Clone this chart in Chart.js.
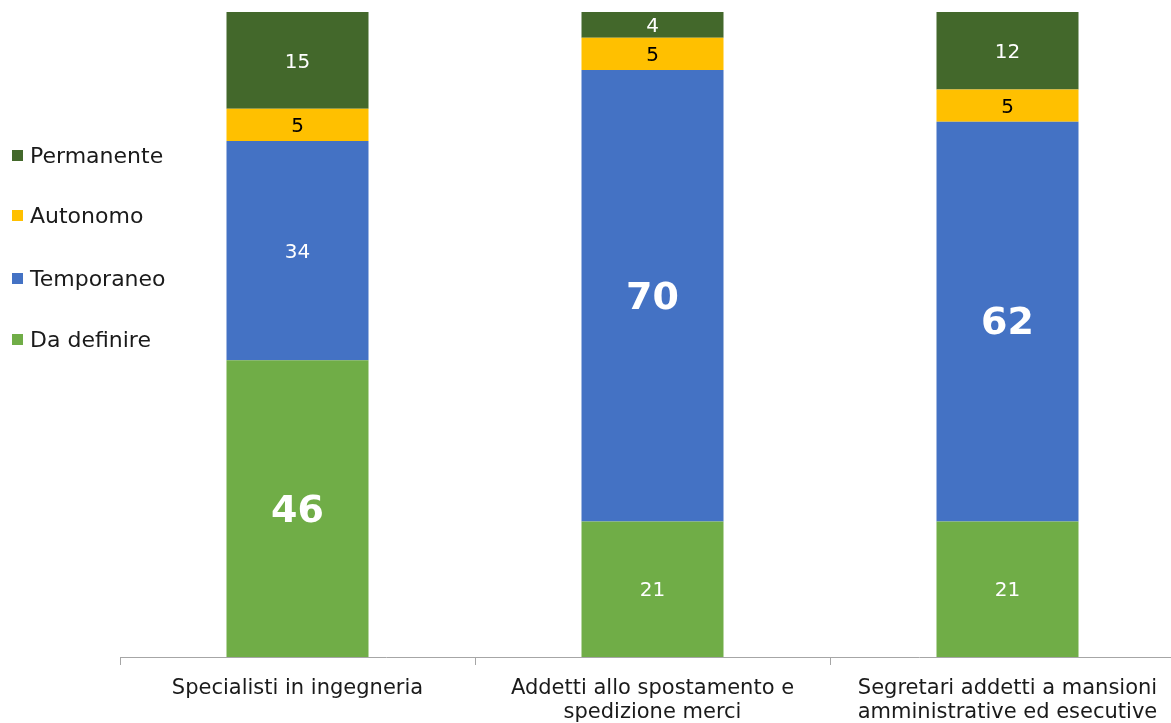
<!DOCTYPE html>
<html><head><meta charset="utf-8">
<script src="https://cdn.jsdelivr.net/npm/chart.js@4/dist/chart.umd.min.js"></script>
<style>
html,body{margin:0;padding:0;background:#fff;overflow:hidden;width:1171px;height:723px;}
#wrap{position:relative;width:1185px;height:723px;}
#legend{position:absolute;left:12px;top:0;font-family:"DejaVu Sans",sans-serif;font-size:22px;color:#1a1a1a;}
.li{position:absolute;white-space:nowrap;display:flex;align-items:center;}
.sw{width:11px;height:11px;display:inline-block;margin-right:7px;}
</style></head>
<body>
<div id="wrap"><canvas id="c" width="1185" height="723"></canvas><div id="legend"></div></div>
<script>
const categories = [["Specialisti in ingegneria"], ["Addetti allo spostamento e", "spedizione merci"], ["Segretari addetti a mansioni", "amministrative ed esecutive"]];
const seriesNames = ["Da definire", "Temporaneo", "Autonomo", "Permanente"];
const daDefinire = [46, 21, 21];
const temporaneo = [34, 70, 62];
const autonomo = [5, 5, 5];
const permanente = [15, 4, 12];
const colors = ["#70AD47", "#4472C4", "#FFC000", "#43682B"];
const labelColors = ["#ffffff", "#ffffff", "#000000", "#ffffff"];
const FONT = '"DejaVu Sans", sans-serif';

const values = [daDefinire, temporaneo, autonomo, permanente];
const datasets = values.map((v, i) => ({
  label: seriesNames[i], data: v, backgroundColor: colors[i], borderWidth: 0,
  barPercentage: 0.4, categoryPercentage: 1.0
}));

const labelPlugin = {
  id: 'lbls',
  afterDatasetsDraw(chart) {
    const ctx = chart.ctx;
    ctx.save();
    ctx.textAlign = 'center'; ctx.textBaseline = 'middle';
    chart.data.datasets.forEach((ds, di) => {
      const meta = chart.getDatasetMeta(di);
      meta.data.forEach((bar, j) => {
        const v = ds.data[j];
        const colMax = Math.max(...chart.data.datasets.map(d => d.data[j]));
        const big = v === colMax;
        ctx.fillStyle = labelColors[di];
        ctx.font = big ? 'bold 38px ' + FONT : '20px ' + FONT;
        const y = (bar.y + bar.base) / 2;
        ctx.fillText(String(v), bar.x, y + (big ? 3 : 2));
      });
    });
    ctx.restore();
  }
};

const chart = new Chart(document.getElementById('c'), {
  type: 'bar',
  data: { labels: categories, datasets },
  options: {
    responsive: false, animation: false,
    layout: { padding: { left: 120, top: 12, right: 0, bottom: 0 } },
    plugins: { legend: { display: false }, tooltip: { enabled: false } },
    scales: {
      x: {
        stacked: true,
        grid: { display: true, offset: true, drawOnChartArea: false, drawTicks: true, tickLength: 8, color: '#a6a6a6', lineWidth: 1 },
        border: { display: true, color: '#a6a6a6', width: 1 },
        ticks: { color: '#1a1a1a', font: { family: FONT, size: 21, lineHeight: 1.15 }, padding: 11, maxRotation: 0, autoSkip: false },
        afterFit(s) { s.height = 66; }
      },
      y: { stacked: true, display: false, min: 0, max: 100 }
    }
  },
  plugins: [labelPlugin]
});

const legendTops = [339, 278, 215, 155];
const lg = document.getElementById('legend');
seriesNames.forEach((n, i) => {
  const d = document.createElement('div');
  d.className = 'li';
  d.style.top = (legendTops[i] - 13) + 'px';
  d.style.height = '26px';
  d.innerHTML = '<span class="sw" style="background:' + colors[i] + '"></span><span>' + n + '</span>';
  lg.appendChild(d);
});
</script>
</body></html>
